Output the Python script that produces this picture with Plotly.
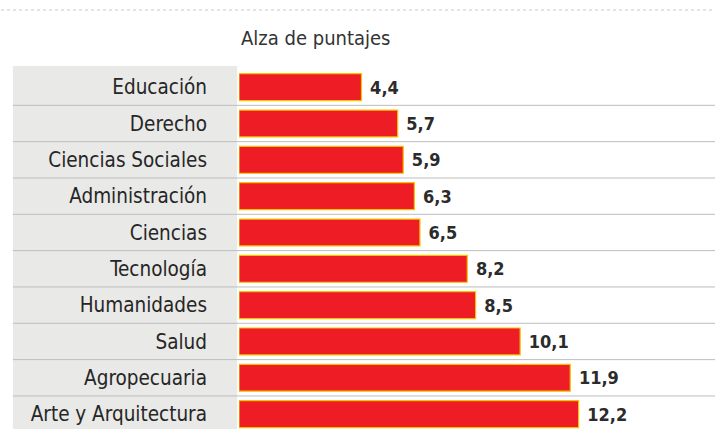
import plotly.graph_objects as go

categories = ["Educación", "Derecho", "Ciencias Sociales", "Administración", "Ciencias",
              "Tecnología", "Humanidades", "Salud", "Agropecuaria", "Arte y Arquitectura"]
values = [4.4, 5.7, 5.9, 6.3, 6.5, 8.2, 8.5, 10.1, 11.9, 12.2]
value_labels = [" " + f"{v:.1f}".replace(".", ",") for v in values]
title_text = "Alza de puntajes"

FONT = "DejaVu Sans Condensed, Liberation Sans Narrow, sans-serif"

fig = go.Figure()
fig.add_trace(go.Bar(
    x=values, y=categories, orientation="h",
    marker=dict(color="#ee1c25", line=dict(color="#f5c200", width=1.2)),
    width=0.74,
    text=value_labels, textposition="outside", cliponaxis=False,
    textfont=dict(family=FONT, size=18, color="#2b2b2b", weight="bold"),
    hoverinfo="skip",
))

shapes = []
shapes.append(dict(type="rect", xref="paper", yref="paper",
                   x0=-0.475, x1=-0.004, y0=-0.02, y1=1.008,
                   fillcolor="#e9e9e7", line=dict(width=0), layer="below"))
for i in range(len(categories) - 1):
    shapes.append(dict(type="line", xref="paper", yref="y",
                       x0=-0.475, x1=1, y0=i + 0.5, y1=i + 0.5,
                       line=dict(color="#bdbdbd", width=1), layer="below"))
shapes.append(dict(type="line", xref="paper", yref="paper",
                   x0=-0.5, x1=1, y0=1 + 59 / 360, y1=1 + 59 / 360,
                   line=dict(color="#c8c8c8", width=1, dash="dot"), layer="below"))

fig.update_layout(
    width=715, height=429,
    margin=dict(l=239, r=0, t=69, b=0, pad=0, autoexpand=False),
    paper_bgcolor="white", plot_bgcolor="rgba(0,0,0,0)",
    showlegend=False,
    shapes=shapes,
    annotations=[dict(text=title_text, xref="paper", yref="paper",
                      x=0.0, xanchor="left", y=1 + 31 / 360, yanchor="middle",
                      showarrow=False,
                      font=dict(family=FONT, size=20, color="#333333"))],
    xaxis=dict(range=[0, 17.1], showgrid=False, zeroline=False, showticklabels=False,
               showline=False, fixedrange=True, automargin=False),
    yaxis=dict(type="category", categoryorder="array", categoryarray=categories,
               range=[9.41, -0.5], showgrid=False, zeroline=False, showline=False,
               ticks="", ticklabelstandoff=31, automargin=False,
               tickfont=dict(family=FONT, size=20.5, color="#262626")),
)

fig.write_html("out.html", config={"displayModeBar": False},
               post_script="document.body.style.margin='0';document.body.style.overflow='hidden';")
